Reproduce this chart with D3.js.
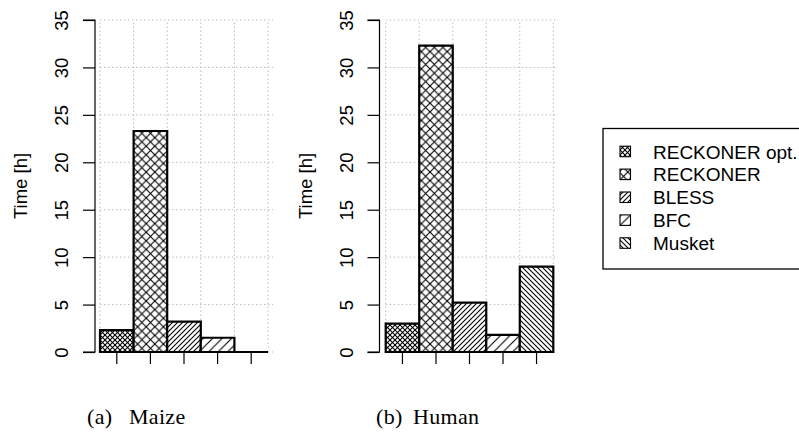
<!DOCTYPE html>
<html><head><meta charset="utf-8">
<script src="https://cdn.jsdelivr.net/npm/d3@7/dist/d3.min.js"></script>
<style>body{margin:0;background:#fff}svg{display:block}</style>
</head><body><svg id="c" width="799" height="436"></svg>
<script>
const tools = ["RECKONER opt.", "RECKONER", "BLESS", "BFC", "Musket"];
const maizeValues = [2.3, 23.3, 3.2, 1.5, 0];
const humanValues = [3.0, 32.3, 5.2, 1.8, 9.0];
const yTicks = [0, 5, 10, 15, 20, 25, 30, 35];
const captions = [["(a)", "Maize"], ["(b)", "Human"]];
const yLabel = "Time [h]";

const svg = d3.select("#c");
const defs = svg.append("defs");
const pats = [
  ["p0", 5.0, ["/", "\\"]],
  ["p1", 8.6, ["/", "\\"]],
  ["p2", 5.0, ["/"]],
  ["p3", 9.5, ["/"]],
  ["p4", 5.0, ["\\"]]
];
pats.forEach(([id, p, dirs]) => {
  const pt = defs.append("pattern").attr("id", id).attr("patternUnits", "userSpaceOnUse")
    .attr("width", p).attr("height", p);
  pt.append("rect").attr("width", p).attr("height", p).attr("fill", "#fff");
  dirs.forEach(d => {
    const s2 = d === "/" ? [[-p/2, p+p/2, p+p/2, -p/2], [-p, p, p, -p], [0, 2*p, 2*p, 0]]
                         : [[-p/2, -p/2, p+p/2, p+p/2], [-p, 0, p, 2*p], [0, -p, 2*p, p]];
    s2.forEach(s => pt.append("line").attr("x1", s[0]).attr("y1", s[1]).attr("x2", s[2]).attr("y2", s[3])
      .attr("stroke", "#000").attr("stroke-width", 1.1));
  });
});

function panel(values, axisX, x0, x1, gridRight, labelX, tickLabelX, caption, capX, capX2) {
  const x = d3.scaleBand().domain(tools).range([x0, x1]).paddingInner(0).paddingOuter(0);
  const y = d3.scaleLinear().domain([0, 35]).range([352, 20]);
  const g = svg.append("g");
  const edges = tools.map(t => x(t)).concat([x1]);
  g.selectAll(".gv").data(edges).join("line")
    .attr("x1", d => d).attr("x2", d => d).attr("y1", y(0)).attr("y2", y(35))
    .attr("stroke", "#bdbdbd").attr("stroke-dasharray", "1.5,2.5");
  g.selectAll(".gh").data(yTicks).join("line")
    .attr("x1", x0).attr("x2", gridRight).attr("y1", d => y(d)).attr("y2", d => y(d))
    .attr("stroke", "#bdbdbd").attr("stroke-dasharray", "1.5,2.5");
  const ya = d3.axisLeft(y).tickValues(yTicks).tickSize(12).tickFormat(d3.format("d"));
  const yg = g.append("g").attr("transform", `translate(${axisX},0)`).call(ya);
  yg.select(".domain").attr("stroke", "#000").attr("stroke-width", 1.2).attr("d", `M-12,${y(35)}H0V${y(0)}H-12`);
  yg.selectAll(".tick line").attr("stroke", "#000").attr("stroke-width", 1.2);
  yg.selectAll(".tick text").attr("x", 0).attr("y", 0).attr("dy", 0)
    .attr("transform", `translate(${tickLabelX - axisX},0) rotate(-90)`)
    .attr("text-anchor", "middle")
    .style("font-family", "'Liberation Sans', Arial, sans-serif").style("font-size", "18.5px").attr("fill", "#000");
  const xa = d3.axisBottom(x).tickSize(12).tickFormat("");
  const xg = g.append("g").attr("transform", "translate(0,352)").call(xa);
  xg.select(".domain").remove();
  xg.selectAll(".tick line").attr("stroke", "#000").attr("stroke-width", 1.2);
  g.selectAll(".bar").data(values).join("path")
    .attr("d", (d, i) => {
      const bx = x(tools[i]), bw = x.bandwidth();
      return `M${bx},${y(0)}V${y(d)}H${bx + bw}V${y(0)}Z`;
    })
    .attr("fill", (d, i) => `url(#p${i})`).attr("stroke", "#000").attr("stroke-width", 2.2)
    .attr("stroke-linejoin", "miter");
  g.append("text").attr("transform", `translate(${labelX},186) rotate(-90)`)
    .attr("text-anchor", "middle")
    .style("font-family", "'Liberation Sans', Arial, sans-serif").style("font-size", "18.5px")
    .text(yLabel);
  const ct = g.append("text").attr("y", 424)
    .style("font-family", "'Liberation Serif', 'Times New Roman', serif").style("font-size", "22px")
    .style("letter-spacing", "0.3px");
  ct.append("tspan").attr("x", capX).text(caption[0] + " ");
  ct.append("tspan").attr("x", capX2).text(caption[1]);
}

panel(maizeValues, 95, 100, 268, 273, 27, 68, captions[0], 87, 129);
panel(humanValues, 379.5, 385.7, 553.3, 558, 312, 353, captions[1], 376, 413);

const lg = svg.append("g");
lg.append("rect").attr("x", 603).attr("y", 128.5).attr("width", 210).attr("height", 140.5)
  .attr("fill", "#fff").attr("stroke", "#000").attr("stroke-width", 1.3);
tools.forEach((t, i) => {
  const cy = 151.7 + i * 22.9;
  lg.append("rect").attr("x", 620).attr("y", cy - 5.5).attr("width", 10.5).attr("height", 10.5)
    .attr("fill", `url(#p${i})`).attr("stroke", "#000").attr("stroke-width", 1.1);
  lg.append("text").attr("x", 653).attr("y", cy + 6.8)
    .style("font-family", "'Liberation Sans', Arial, sans-serif").style("font-size", "19px")
    .text(t);
});
</script></body></html>
